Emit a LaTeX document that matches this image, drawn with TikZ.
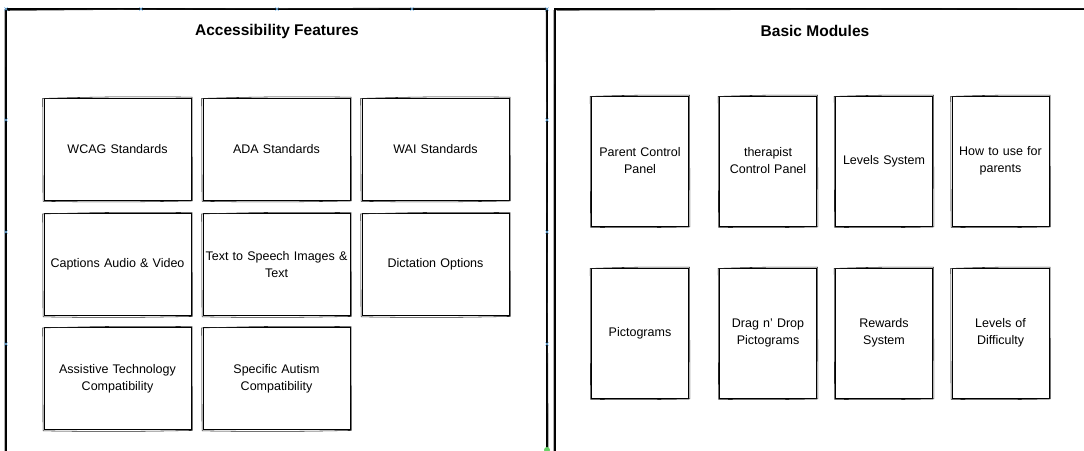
\documentclass[tikz,border=0pt]{standalone}
\usepackage{fontspec}
\setmainfont{Liberation Sans}

\begin{document}
\begin{tikzpicture}[x=1pt,y=-1pt,
    box/.style={draw, line width=0.9pt, align=center, inner sep=2pt,
        font=\fontsize{12.5}{17}\selectfont},
    wide/.style={box, minimum height=102pt, text width=143pt},
    tall/.style={box, minimum height=130pt, text width=93pt},
    redraw/.style={line width=0.55pt, black!85},
    frame/.style={draw, line width=1.1pt},
    heading/.style={font=\fontsize{15.5}{18}\selectfont\bfseries},
    handle/.style={draw=cyan!70!blue!60, line width=0.6pt}]
        \useasboundingbox (0,0) rectangle (1084,450);
        \clip (0,0) rectangle (1084,450);
        % Frames
        \draw[frame] (6,9) rectangle (547,470);
        \draw[frame] (555,9) rectangle (1100,470);
        \draw[redraw] (7,10.5) to[bend left=0.3] (546,8.2) -- (548.3,470);
        \draw[redraw] (4.8,470) -- (5,9);
        \draw[redraw] (556.5,10.3) -- (1100,8.5);
        \draw[redraw] (553.8,470) -- (554,10);
        \node[heading] (acctitle) at (277,31) {Accessibility Features};
        \node[heading] (modtitle) at (815,31) {Basic Modules};
        % Accessibility features
        \node[wide] (wcag) at (117.5,149) {WCAG Standards};
        \node[wide] (ada) at (276.5,149) {ADA Standards};
        \node[wide] (wai) at (435.5,149) {WAI Standards};
        \node[wide] (captions) at (117.5,264.5) {Captions Audio \& Video};
        \node[wide] (speech) at (276.5,264.5) {Text to Speech Images \&\\Text};
        \node[wide] (dictation) at (435.5,264.5) {Dictation Options};
        \node[wide] (assistive) at (117.5,378.5) {Assistive Technology\\Compatibility};
        \node[wide] (autism) at (276.5,378.5) {Specific Autism\\Compatibility};
        % Basic modules
        \node[tall] (parent) at (640,161) {Parent Control\\Panel};
        \node[tall] (therapist) at (768,161) {therapist\\Control Panel};
        \node[tall] (levels) at (884,161) {Levels System};
        \node[tall] (howto) at (1000.5,161) {How to use for\\parents};
        \node[tall] (picto) at (640,333) {Pictograms};
        \node[tall] (dragdrop) at (768,333) {Drag n' Drop\\Pictograms};
        \node[tall] (rewards) at (884,333) {Rewards\\System};
        \node[tall] (difficulty) at (1000.5,333) {Levels of\\Difficulty};
        % second pencil stroke round each box
        \foreach \n in {wcag,ada,wai,captions,speech,dictation,assistive,autism,
                        parent,therapist,levels,howto,picto,dragdrop,rewards,difficulty}
            \draw[redraw] ([shift={(-0.8,0.9)}]\n.north west) to[bend left=1.2]
                ([shift={(0.6,-0.4)}]\n.north east) -- ([shift={(0.9,0.5)}]\n.south east)
                to[bend left=1] ([shift={(-0.5,0.9)}]\n.south west) -- cycle;
        % handles on the left frame
        \foreach \x in {6,141,277,412,547}
            \draw[handle] (\x-1.6,7.4) -- (\x+1.6,10.6) (\x-1.6,10.6) -- (\x+1.6,7.4);
        \foreach \x in {6,547}
            \foreach \y in {120,232,344}
                \draw[handle] (\x-1.6,\y-1.6) -- (\x+1.6,\y+1.6) (\x-1.6,\y+1.6) -- (\x+1.6,\y-1.6);
        \fill[green!70!black!60] (547,450) circle (3);
\end{tikzpicture}
\end{document}
